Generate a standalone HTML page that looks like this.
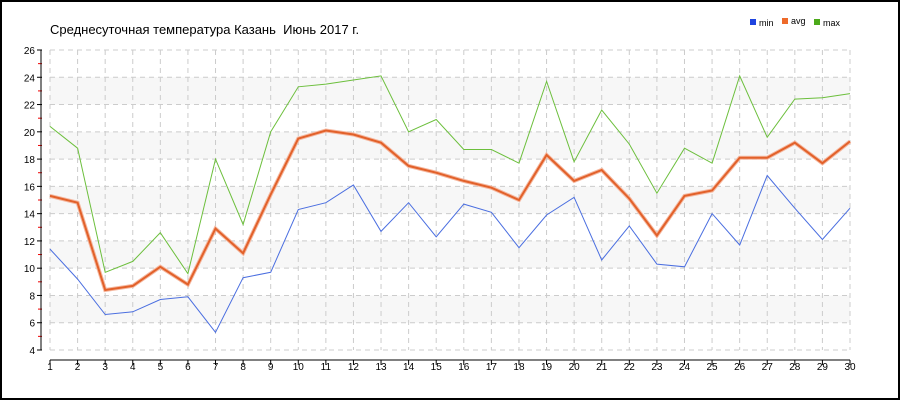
<!DOCTYPE html>
<html><head><meta charset="utf-8"><style>
html,body{margin:0;padding:0;background:#fff}
svg{display:block}
text{font-family:"Liberation Sans",sans-serif}
</style></head><body>
<svg id="c" width="900" height="400" xmlns="http://www.w3.org/2000/svg"></svg>
<script>
const s=document.getElementById('c');
let h='<rect x="1" y="1" width="898" height="398" fill="#fff" stroke="#000" stroke-width="2"/>';
const X=d=>50+(d-1)*800/29, Y=v=>350-(v-4)*300/22;
[6,10,14,18,22].forEach(v=>{h+=`<rect x="50" y="${Y(v+2)}" width="800" height="${Y(v)-Y(v+2)}" fill="#f7f7f7"/>`;});
for(let v=4;v<=26;v+=2){h+=`<line x1="50" x2="850" y1="${Y(v)}" y2="${Y(v)}" stroke="#ccc" stroke-dasharray="5,4"/>`;
h+=`<line x1="37" x2="42" y1="${Y(v)}" y2="${Y(v)}" stroke="#000"/><text x="35" y="${Y(v)+4}" font-size="10" text-anchor="end">${v}</text>`;
if(v<26)h+=`<line x1="38" x2="42" y1="${Y(v+1)}" y2="${Y(v+1)}" stroke="#e00"/>`;}
h+=`<line x1="41" x2="41" y1="50" y2="350" stroke="#000"/>`;
for(let d=1;d<=30;d++){h+=`<line x1="${X(d)}" x2="${X(d)}" y1="50" y2="350" stroke="#ccc" stroke-dasharray="5,4"/>`;
h+=`<line x1="${X(d)}" x2="${X(d)}" y1="360" y2="365" stroke="#000"/><text x="${X(d)}" y="370" font-size="10" text-anchor="middle">${d}</text>`;}
h+=`<line x1="50" x2="850" y1="360" y2="360" stroke="#000"/>`;
const mn=[11.4,9.2,6.6,6.8,7.7,7.9,5.3,9.3,9.7,14.3,14.8,16.1,12.7,14.8,12.3,14.7,14.1,11.5,13.9,15.2,10.6,13.1,10.3,10.1,14.0,11.7,16.8,14.4,12.1,14.4];
const av=[15.3,14.8,8.4,8.7,10.1,8.8,12.9,11.1,15.4,19.5,20.1,19.8,19.2,17.5,17.0,16.4,15.9,15.0,18.3,16.4,17.2,15.1,12.4,15.3,15.7,18.1,18.1,19.2,17.7,19.3];
const mx=[20.4,18.8,9.7,10.5,12.6,9.6,18.0,13.2,20.0,23.3,23.5,23.8,24.1,20.0,20.9,18.7,18.7,17.7,23.7,17.8,21.6,19.1,15.5,18.8,17.7,24.1,19.6,22.4,22.5,22.8];
const P=a=>a.map((v,i)=>X(i+1).toFixed(1)+','+Y(v).toFixed(1)).join(' ');
h+=`<polyline points="${P(mn)}" fill="none" stroke="#4a6ee0" stroke-width="1"/>`;
h+=`<polyline points="${P(mx)}" fill="none" stroke="#6cbf3c" stroke-width="1"/>`;
h+=`<polyline points="${P(av)}" fill="none" stroke="#f5b8a0" stroke-width="4"/>`;
h+=`<polyline points="${P(av)}" fill="none" stroke="#e2612a" stroke-width="2"/>`;
h+=`<text x="50" y="34" font-size="13">Среднесуточная температура Казань &#160;Июнь 2017 г.</text>`;
h+=`<rect x="750" y="19" width="6" height="6" fill="#1e44e0"/><text x="759" y="26" font-size="9">min</text>`;
h+=`<rect x="782" y="18" width="6" height="6" fill="#ee6a2a"/><text x="791" y="24" font-size="9">avg</text>`;
h+=`<rect x="814" y="19" width="6" height="6" fill="#4caa1a"/><text x="823" y="26" font-size="9">max</text>`;
s.innerHTML=h;
</script>
</body></html>
